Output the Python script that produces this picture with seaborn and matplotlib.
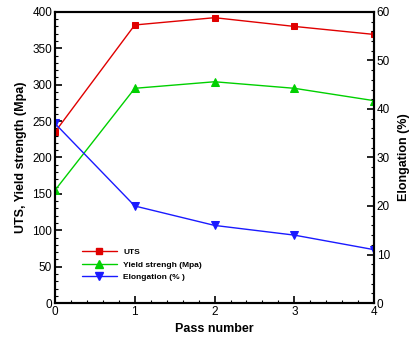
import numpy as np
import pandas as pd
import seaborn as sns
import matplotlib.pyplot as plt
from matplotlib.ticker import MultipleLocator
from matplotlib.lines import Line2D

passes = [0, 1, 2, 3, 4]
uts = [235, 382, 392, 380, 369]
yield_str = [155, 295, 304, 295, 278]
elongation = [37, 20, 16, 14, 11]

sns.set_style("ticks")
plt.rcParams['font.family'] = ['Liberation Sans', 'DejaVu Sans']
plt.rcParams['text.color'] = 'black'
plt.rcParams['axes.labelcolor'] = 'black'
plt.rcParams['xtick.color'] = 'black'
plt.rcParams['ytick.color'] = 'black'

df = pd.DataFrame({'pass': passes, 'uts': uts, 'yield': yield_str, 'elong': elongation})

fig = plt.figure(figsize=(4.12, 3.39), dpi=100)
ax = fig.add_axes([0.1335, 0.106, 0.7745, 0.859])
ax2 = ax.twinx()

red, green, blue = '#e00000', '#00d000', '#1a1aff'
ms = 5

sns.lineplot(data=df, x='pass', y='uts', ax=ax, color=red, marker='s',
             markersize=ms, markeredgecolor=red, linewidth=1)
sns.lineplot(data=df, x='pass', y='yield', ax=ax, color=green, marker='^',
             markersize=ms + 0.5, markeredgecolor=green, linewidth=1)
sns.lineplot(data=df, x='pass', y='elong', ax=ax2, color=blue, marker='v',
             markersize=ms + 0.5, markeredgecolor=blue, linewidth=1)

ax.set_xlim(0, 4)
ax.set_ylim(0, 400)
ax2.set_ylim(0, 60)
ax.xaxis.set_major_locator(MultipleLocator(1))
ax.xaxis.set_minor_locator(MultipleLocator(0.2))
ax.yaxis.set_major_locator(MultipleLocator(50))
ax.yaxis.set_minor_locator(MultipleLocator(10))
ax2.yaxis.set_major_locator(MultipleLocator(10))
ax2.yaxis.set_minor_locator(MultipleLocator(2))

for a in (ax, ax2):
    a.tick_params(which='major', direction='in', length=5, width=1.2, labelsize=8.5, pad=2)
    a.tick_params(which='minor', direction='in', length=2.5, width=0.8)
    for s in a.spines.values():
        s.set_linewidth(1.5)
        s.set_color('black')

ax.set_xlabel('Pass number', fontsize=9, fontweight='bold', labelpad=4)
ax.set_ylabel('UTS, Yield strength (Mpa)', fontsize=9, fontweight='bold', labelpad=4)
ax2.set_ylabel('Elongation (%)', fontsize=9, fontweight='bold', labelpad=6)

handles = [
    Line2D([], [], color=red, marker='s', markersize=ms, linewidth=1),
    Line2D([], [], color=green, marker='^', markersize=ms + 0.5, linewidth=1),
    Line2D([], [], color=blue, marker='v', markersize=ms + 0.5, linewidth=1),
]
ax.legend(handles, ['UTS', 'Yield strengh (Mpa)', 'Elongation (% )'],
          loc='lower left', bbox_to_anchor=(0.06, 0.05), frameon=False,
          prop={'size': 6, 'weight': 'bold'}, handlelength=4.2,
          handletextpad=0.8, labelspacing=0.55)

fig.savefig('out.png', dpi=100)
